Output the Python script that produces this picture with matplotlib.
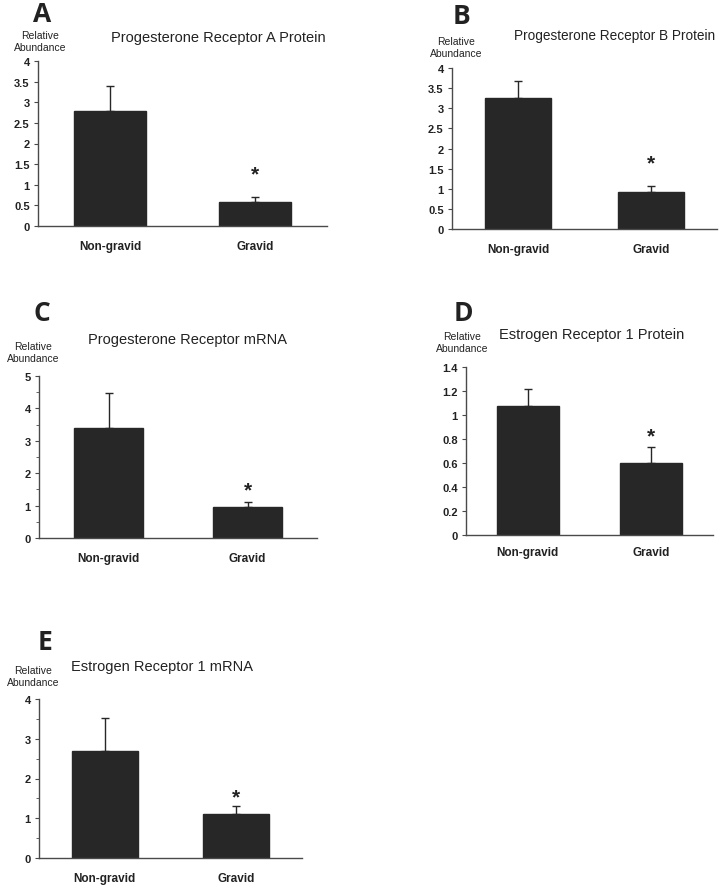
import numpy as np
import matplotlib.pyplot as plt

# data
groups = ['Non-gravid', 'Gravid']

pra_protein = [2.80, 0.58]
pra_protein_err = [0.60, 0.12]
prb_protein = [3.25, 0.92]
prb_protein_err = [0.42, 0.16]
pr_mrna = [3.40, 0.95]
pr_mrna_err = [1.08, 0.15]
esr1_protein = [1.075, 0.60]
esr1_protein_err = [0.14, 0.135]
esr1_mrna = [2.70, 1.10]
esr1_mrna_err = [0.82, 0.20]

W, H = 721, 887
fig = plt.figure(figsize=(W / 100, H / 100), dpi=100)
plt.rcParams['font.family'] = ['Liberation Sans', 'DejaVu Sans']

bar_col = '#272727'
axis_col = '#4a4a4a'


def px(x, y):
    return x / W, 1 - y / H


def panel(box, vals, errs, ymax, ystep, minor, title, letter,
          title_xy, ra_xy, letter_xy, star_y, label_pad, title_size=10.5):
    x0, y0, x1, y1 = box
    ax = fig.add_axes([x0 / W, 1 - y1 / H, (x1 - x0) / W, (y1 - y0) / H])
    x = np.arange(len(groups))
    ax.bar(x, vals, width=0.5, color=bar_col, edgecolor=bar_col, zorder=2)
    ax.errorbar(x, vals, yerr=[np.zeros(len(errs)), errs], fmt='none',
                ecolor=bar_col, elinewidth=1, capsize=3, capthick=1, zorder=1)
    ax.set_xlim(-0.5, 1.5)
    ax.set_ylim(0, ymax)
    ticks = np.arange(0, ymax + ystep / 2, ystep)
    ax.set_yticks(ticks)
    ax.set_yticklabels(['%g' % round(t, 2) for t in ticks],
                       fontsize=8, fontweight='bold', color='#222222')
    if minor:
        ax.set_yticks(np.arange(0, ymax, minor), minor=True)
        ax.tick_params(axis='y', which='minor', length=2.5, color=axis_col)
    ax.set_xticks(x)
    ax.set_xticklabels(groups, fontsize=8.5, fontweight='bold', color='#222222')
    ax.tick_params(axis='x', length=0, pad=label_pad)
    ax.tick_params(axis='y', which='major', length=3, color=axis_col, pad=3)
    for s in ['top', 'right']:
        ax.spines[s].set_visible(False)
    for s in ['left', 'bottom']:
        ax.spines[s].set_color(axis_col)
        ax.spines[s].set_linewidth(1)
    ax.text(1, star_y, '*', ha='center', va='center', fontsize=15,
            fontweight='bold', color='#222222')
    fig.text(*px(*title_xy), title, ha='center', va='center',
             fontsize=title_size, color='#222222')
    fig.text(*px(*ra_xy), 'Relative\nAbundance', ha='center', va='center',
             fontsize=7.5, color='#222222', linespacing=1.2)
    fig.text(*px(*letter_xy), letter, ha='center', va='center', fontsize=19,
             fontweight='bold', family='Open Sans', color='#222222')
    return ax


panel((38, 62, 327, 227), pra_protein, pra_protein_err, 4, 0.5, None,
      'Progesterone Receptor A Protein', 'A',
      (218, 38), (40, 42), (42, 14), 1.27, 10)
panel((452, 69, 717, 230), prb_protein, prb_protein_err, 4, 0.5, None,
      'Progesterone Receptor B Protein', 'B',
      (615, 36), (456, 48), (461, 16), 1.65, 10, title_size=9.8)
panel((39, 377, 317, 539), pr_mrna, pr_mrna_err, 5, 1, 0.5,
      'Progesterone Receptor mRNA', 'C',
      (188, 340), (33, 353), (42, 314), 1.5, 10)
panel((466, 368, 713, 536), esr1_protein, esr1_protein_err, 1.4, 0.2, None,
      'Estrogen Receptor 1 Protein', 'D',
      (592, 335), (462, 343), (463, 314), 0.83, 8)
panel((39, 700, 302, 859), esr1_mrna, esr1_mrna_err, 4, 1, 0.5,
      'Estrogen Receptor 1 mRNA', 'E',
      (162, 667), (33, 677), (45, 643), 1.53, 10)

plt.savefig('out.png', dpi=100)
